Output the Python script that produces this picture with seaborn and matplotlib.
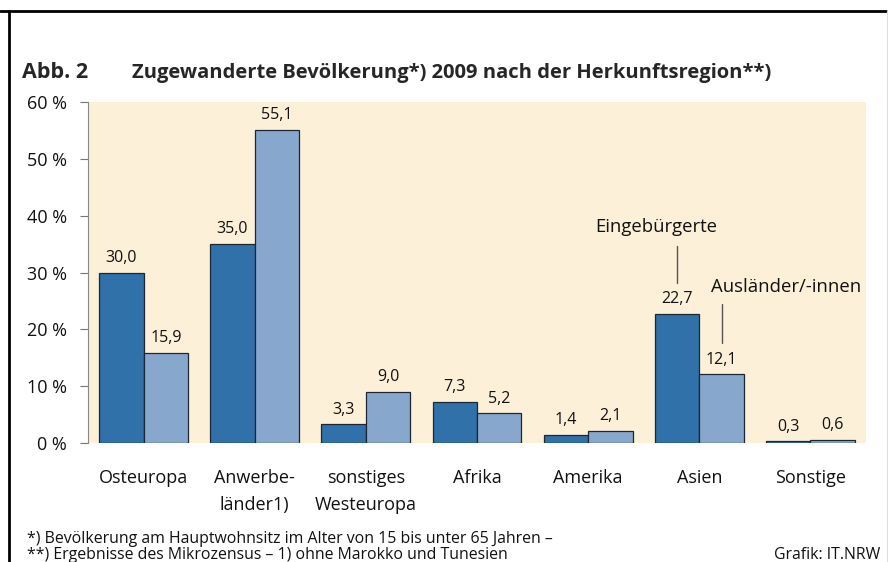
import matplotlib
matplotlib.use("Agg")
import matplotlib.pyplot as plt
import seaborn as sns
import pandas as pd
from matplotlib.lines import Line2D

categories = ["Osteuropa", "Anwerbe-\nländer1)", "sonstiges\nWesteuropa", "Afrika", "Amerika", "Asien", "Sonstige"]
eingebuergerte = [30.0, 35.0, 3.3, 7.3, 1.4, 22.7, 0.3]
auslaender = [15.9, 55.1, 9.0, 5.2, 2.1, 12.1, 0.6]
series_names = ["Eingebürgerte", "Ausländer/-innen"]
yticks = [0, 10, 20, 30, 40, 50, 60]
ytick_labels = ["0 %", "10 %", "20 %", "30 %", "40 %", "50 %", "60 %"]

df = pd.DataFrame({
    "Region": categories * 2,
    "Gruppe": [series_names[0]] * len(categories) + [series_names[1]] * len(categories),
    "Wert": eingebuergerte + auslaender,
})

sns.set_theme(style="white")
plt.rcParams["font.family"] = ["Open Sans", "DejaVu Sans"]

fig = plt.figure(figsize=(8.88, 5.62), dpi=100)
ax = fig.add_axes([88 / 888, 1 - 443 / 562, (866 - 88) / 888, (443 - 102) / 562])
ax.set_facecolor("#fdf0d9")

palette = {series_names[0]: "#2f71a8", series_names[1]: "#88a7cd"}
sns.barplot(data=df, x="Region", y="Wert", hue="Gruppe", palette=palette,
            width=0.8, edgecolor="#1c2733", linewidth=0.9, saturation=1,
            legend=False, ax=ax)

ax.set_xlim(-0.5, len(categories) - 0.5)
ax.set_ylim(0, 60)
ax.set_yticks(yticks)
ax.set_yticklabels(ytick_labels, fontsize=13, color="#111111")
ax.set_xlabel("")
ax.set_ylabel("")
ax.tick_params(axis="y", length=6, width=0.8, color="#777777", pad=9, left=True)
ax.tick_params(axis="x", length=0, pad=19, labelsize=13, labelcolor="#111111")
for lbl in ax.get_xticklabels():
    lbl.set_verticalalignment("top")
    lbl.set_linespacing(1.62)
for s in ["top", "right", "bottom"]:
    ax.spines[s].set_visible(False)
ax.spines["left"].set_color("#888888")
ax.spines["left"].set_linewidth(0.8)

# value labels
for cont in ax.containers:
    for rect in cont:
        h = rect.get_height()
        ax.annotate(f"{h:.1f}".replace(".", ","),
                    (rect.get_x() + rect.get_width() / 2, h),
                    xytext=(0, 10.5), textcoords="offset points",
                    ha="center", va="center", fontsize=11.5, color="#111111")

# series callouts at Asien
idx = categories.index("Asien")
dark_rect = ax.containers[0][idx]
light_rect = ax.containers[1][idx]
xd = dark_rect.get_x() + dark_rect.get_width() / 2
xl = light_rect.get_x() + light_rect.get_width() / 2
ax.plot([xd, xd], [eingebuergerte[idx] + 5.5, eingebuergerte[idx] + 12.0], color="#555555", lw=1)
ax.text(xd - 0.19, eingebuergerte[idx] + 15.3, series_names[0], ha="center", va="center",
        fontsize=13.3, color="#111111")
ax.plot([xl, xl], [auslaender[idx] + 5.5, auslaender[idx] + 12.4], color="#555555", lw=1)
ax.text(xl + 0.58, auslaender[idx] + 15.3, series_names[1], ha="center", va="center",
        fontsize=13.3, color="#111111")

# title
fig.text(22 / 888, 1 - 73 / 562, "Abb. 2", fontsize=15.5, fontweight="bold", va="center", ha="left")
fig.text(132 / 888, 1 - 73 / 562, "Zugewanderte Bevölkerung*) 2009 nach der Herkunftsregion**)",
         fontsize=14.5, fontweight="bold", va="center", ha="left")

# footnotes
fig.text(27 / 888, 1 - 539 / 562, "*) Bevölkerung am Hauptwohnsitz im Alter von 15 bis unter 65 Jahren –",
         fontsize=11.4, va="center", ha="left", color="#111111")
fig.text(27 / 888, 1 - 555 / 562, "**) Ergebnisse des Mikrozensus – 1) ohne Marokko und Tunesien",
         fontsize=11.4, va="center", ha="left", color="#111111")
fig.text(880 / 888, 1 - 555 / 562, "Grafik: IT.NRW", fontsize=11.4, va="center", ha="right", color="#111111")

# frame lines
fig.add_artist(Line2D([0, 886 / 888], [1 - 11 / 562, 1 - 11 / 562], transform=fig.transFigure,
                      color="black", lw=2))
fig.add_artist(Line2D([8.5 / 888, 8.5 / 888], [0, 1 - 11 / 562], transform=fig.transFigure,
                      color="black", lw=2))
fig.add_artist(Line2D([887 / 888, 887 / 888], [0, 1 - 11 / 562], transform=fig.transFigure,
                      color="#dddddd", lw=0.8))

fig.savefig("out.png", dpi=100)
